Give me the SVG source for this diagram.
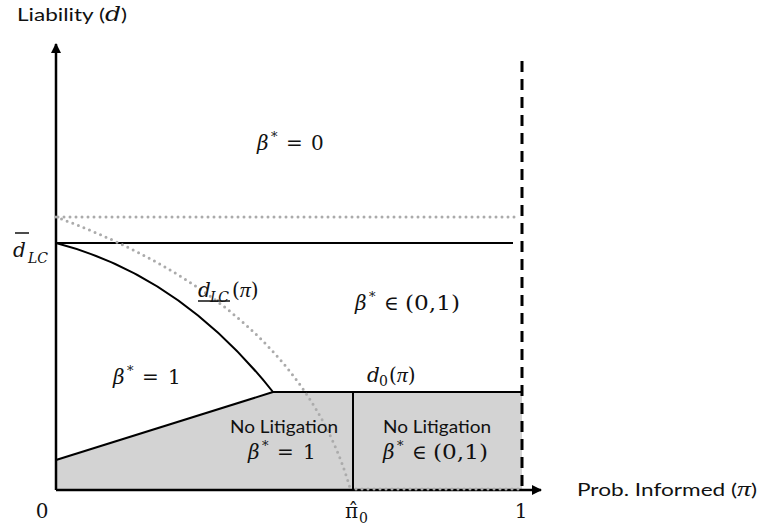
<svg xmlns="http://www.w3.org/2000/svg" width="764" height="529" viewBox="0 0 764 529">
<style>
.ax{stroke:#000;stroke-width:2.5;fill:none}
.ln{stroke:#000;stroke-width:2;fill:none}
.dot{stroke:#ababab;stroke-width:3;stroke-linecap:round;stroke-dasharray:0 6;fill:none}
.sans{font-family:Lato,"Liberation Sans",sans-serif;font-size:18px;fill:#111}
.m{font-family:"DejaVu Serif","Liberation Serif",serif;font-size:20px;fill:#111}
.i{font-style:italic}
.p{font-family:"Liberation Serif","DejaVu Serif",serif;font-style:italic;font-size:22px}
.sup{font-size:13px}
.sub{font-size:14px}
</style>
<defs>
<marker id="ar" viewBox="0 0 10 10" refX="9" refY="5" markerWidth="4" markerHeight="4" orient="auto" markerUnits="strokeWidth">
<path d="M0,0 L10,5 L0,10 z" fill="#000"/>
</marker>
</defs>
<rect width="764" height="529" fill="#fff"/>
<g id="regions">
<polygon points="56,460 273,392 522,392 522,490 56,490" fill="#d3d3d3"/>
</g>
<g id="connectors">
<line class="ax" x1="56" y1="490" x2="56" y2="44" marker-end="url(#ar)"/>
<line class="ax" x1="56" y1="490" x2="541" y2="490" marker-end="url(#ar)"/>
<line x1="522" y1="61" x2="522" y2="490" stroke="#000" stroke-width="3" stroke-dasharray="11 7"/>
<line class="ln" x1="56" y1="243" x2="513" y2="243"/>
<path class="ln" d="M56,243 Q180,275 273,392"/>
<line class="ln" x1="56" y1="460" x2="273" y2="392"/>
<line class="ln" x1="273" y1="392" x2="522" y2="392"/>
<line class="ln" x1="353" y1="392" x2="353" y2="490"/>
<line class="dot" x1="58" y1="217" x2="516" y2="217"/>
<path class="dot" d="M56,217 C160,255 305,330 350,488"/>
<line class="dot" x1="356" y1="489" x2="520" y2="489"/>
</g>
<g id="axis-labels">
<text class="sans" x="17" y="21" textLength="110" lengthAdjust="spacingAndGlyphs">Liability (<tspan class="m i">d</tspan>)</text>
<text class="sans" x="577" y="496" textLength="180" lengthAdjust="spacingAndGlyphs">Prob. Informed (<tspan class="p">π</tspan>)</text>
<text class="m" x="42" y="518" text-anchor="middle">0</text>
<text class="m" x="521" y="518" text-anchor="middle">1</text>
<text class="m" x="345" y="518">π̂</text>
<text class="m sub" x="359" y="523">0</text>
</g>
<g id="dbar">
<line x1="15" y1="233" x2="29" y2="233" stroke="#111" stroke-width="1.5"/>
<text class="m i" x="13" y="257" font-size="22">d</text>
<text class="m i sub" x="28" y="263">LC</text>
</g>
<g id="dlc">
<text class="m i" x="198" y="297">d</text>
<text class="m i sub" x="210" y="302" textLength="19">LC</text>
<text class="m" x="232" y="297">(<tspan class="p">π</tspan>)</text>
<line x1="198" y1="301" x2="230" y2="301" stroke="#111" stroke-width="1.5"/>
</g>
<g id="d0">
<text class="m i" x="367" y="382">d</text>
<text class="m sub" x="379" y="386">0</text>
<text class="m" x="389" y="382">(<tspan class="p">π</tspan>)</text>
</g>
<g id="beta0">
<text class="m i" x="257" y="150">β</text><text class="m sup" x="271" y="141">*</text>
<text class="m" x="286" y="150">=</text><text class="m" x="311" y="150">0</text>
</g>
<g id="beta-mid">
<text class="m i" x="355" y="310">β</text><text class="m sup" x="369" y="301">*</text>
<text class="m" x="384" y="310">∈</text><text class="m" x="405" y="310" textLength="55" lengthAdjust="spacingAndGlyphs">(0,1)</text>
</g>
<g id="beta1">
<text class="m i" x="113" y="384">β</text><text class="m sup" x="127" y="375">*</text>
<text class="m" x="142" y="384">=</text><text class="m" x="168" y="384">1</text>
</g>
<g id="nolit1">
<text class="sans" x="284" y="433" text-anchor="middle" textLength="108" lengthAdjust="spacingAndGlyphs">No Litigation</text>
<text class="m i" x="248" y="459">β</text><text class="m sup" x="262" y="450">*</text>
<text class="m" x="277" y="459">=</text><text class="m" x="303" y="459">1</text>
</g>
<g id="nolit2">
<text class="sans" x="437" y="433" text-anchor="middle" textLength="108" lengthAdjust="spacingAndGlyphs">No Litigation</text>
<text class="m i" x="383" y="459">β</text><text class="m sup" x="397" y="450">*</text>
<text class="m" x="412" y="459">∈</text><text class="m" x="433" y="459" textLength="55" lengthAdjust="spacingAndGlyphs">(0,1)</text>
</g>
</svg>
